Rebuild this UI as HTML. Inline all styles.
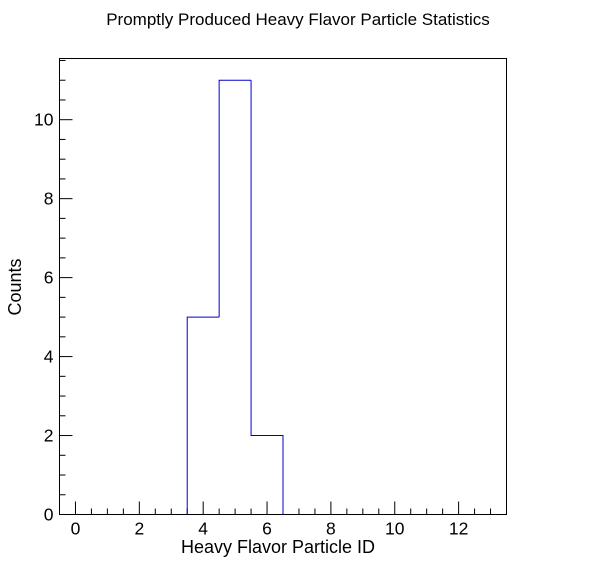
<!DOCTYPE html>
<html><head><meta charset="utf-8"><style>
html,body{margin:0;padding:0;background:#fff;}
svg text{font-family:"Liberation Sans",Arial,sans-serif;}
</style></head><body>
<svg id="chart" width="596" height="572">
<rect width="596" height="572" fill="#fff"/>
<text x="298" y="25" font-size="17" text-anchor="middle">Promptly Produced Heavy Flavor Particle Statistics</text>
<rect x="59.5" y="58.5" width="447" height="456" fill="none" stroke="#000" stroke-width="1"/>
<g id="axes"></g>
<path id="hist" fill="none" stroke="#0000cc" stroke-width="1"/>
<text x="278" y="553" font-size="18" text-anchor="middle">Heavy Flavor Particle ID</text>
<text transform="translate(21,287) rotate(-90)" font-size="18" text-anchor="middle">Counts</text>
</svg>
<script>
const binLow = [-0.5,0.5,1.5,2.5,3.5,4.5,5.5,6.5,7.5,8.5,9.5,10.5,11.5,12.5];
const binCounts = [0,0,0,0,5,11,2,0,0,0,0,0,0,0];
const xTicks = [0,2,4,6,8,10,12];
const yTicks = [0,2,4,6,8,10];
const X0=59.5,X1=506.5,Y0=514.5,Y1=58.5,xmin=-0.5,xmax=13.5,ymin=0,ymax=11.55;
const sx=v=>X0+(v-xmin)/(xmax-xmin)*(X1-X0);
const sy=v=>Y0-(v-ymin)/(ymax-ymin)*(Y0-Y1);
const ns="http://www.w3.org/2000/svg";
const g=document.getElementById('axes');
function line(x1,y1,x2,y2){const l=document.createElementNS(ns,'line');l.setAttribute('x1',x1);l.setAttribute('y1',y1);l.setAttribute('x2',x2);l.setAttribute('y2',y2);l.setAttribute('stroke','#000');


g.appendChild(l);}
function txt(x,y,s,a){const t=document.createElementNS(ns,'text');t.setAttribute('x',x);t.setAttribute('y',y);t.setAttribute('font-size','17.5');t.setAttribute('text-anchor',a);t.textContent=s;


g.appendChild(t);}
for(let v=0;v<=13.001;v+=0.5){const M=Math.abs(v%2)<1e-6;line(sx(v),Y0,sx(v),Y0-(M?13:6));}
xTicks.forEach(v=>txt(sx(v),Y0+20,String(v),'middle'));
for(let v=0;v<=ymax;v+=0.5){const M=Math.abs(v%2)<1e-6;line(X0,sy(v),X0+(M?13:6),sy(v));}
yTicks.forEach(v=>txt(X0-6,sy(v)+6,String(v),'end'));
let d='';
binLow.forEach((lo,i)=>{const c=binCounts[i];if(c>0){const prev=i>0?binCounts[i-1]:0;d+=`M${sx(lo)},${sy(prev)}L${sx(lo)},${sy(c)}L${sx(lo+1)},${sy(c)}`;const nx=i<binCounts.length-1?binCounts[i+1]:0;if(nx===0)d+=`L${sx(lo+1)},${sy(0)}`;}});
document.getElementById('hist').setAttribute('d',d);
</script>
</body></html>
